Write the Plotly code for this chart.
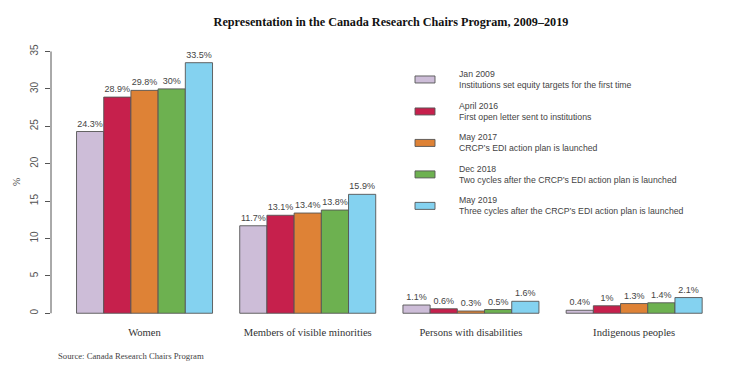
import plotly.graph_objects as go

categories = ["Women", "Members of visible minorities", "Persons with disabilities", "Indigenous peoples"]
series_dates = ["Jan 2009", "April 2016", "May 2017", "Dec 2018", "May 2019"]
series_desc = [
    "Institutions set equity targets for the first time",
    "First open letter sent to institutions",
    "CRCP\u2019s EDI action plan is launched",
    "Two cycles after the CRCP\u2019s EDI action plan is launched",
    "Three cycles after the CRCP\u2019s EDI action plan is launched",
]
jan_2009 = [24.3, 11.7, 1.1, 0.4]
apr_2016 = [28.9, 13.1, 0.6, 1.0]
may_2017 = [29.8, 13.4, 0.3, 1.3]
dec_2018 = [30.0, 13.8, 0.5, 1.4]
may_2019 = [33.5, 15.9, 1.6, 2.1]
series_values = [jan_2009, apr_2016, may_2017, dec_2018, may_2019]
colors = ["#CDBDD8", "#C6204C", "#DE8236", "#6DB150", "#84D2F0"]
y_ticks = [0, 5, 10, 15, 20, 25, 30, 35]

# page body has an 8px margin: work in page pixels, then shift
OFF = 8
W, H = 754 - 2 * OFF, 377 - 2 * OFF
ML, MR = 51 - OFF, 34 - OFF
MT = 43.5 - OFF
MB = H - (316.7 - OFF)
PW, PH = W - ML - MR, H - MT - MB
X_RANGE = [-0.573, 3.526]
Y_RANGE = [-0.5, 36.0]

def px_x(p):
    return (p - OFF - ML) / PW

def px_y(p):
    return 1 - (p - OFF - MT) / PH

SANS = "Liberation Sans, Arial, sans-serif"
SERIF = "Liberation Serif, Times New Roman, serif"

fig = go.Figure()
x_pos = list(range(len(categories)))
for name, vals, col in zip(series_dates, series_values, colors):
    fig.add_trace(go.Bar(
        x=x_pos, y=vals, name=name,
        marker=dict(color=col, line=dict(color="#555555", width=0.9)),
        text=[f"{v:g}%" for v in vals],
        textposition="outside",
        textfont=dict(family=SANS, size=9, color="#444444"),
        cliponaxis=False,
        showlegend=False,
    ))

shapes = []
annotations = []
shapes.append(dict(type="line", xref="paper", yref="y", x0=0, x1=0, y0=0, y1=35,
                   line=dict(color="#555555", width=1)))

legend_centers = [79, 111, 142.5, 174, 205.5]
for i, (d, desc, col) in enumerate(zip(series_dates, series_desc, colors)):
    cy = legend_centers[i]
    shapes.append(dict(type="rect", xref="paper", yref="paper",
                       x0=px_x(415), x1=px_x(435), y0=px_y(cy + 3.5), y1=px_y(cy - 3.5),
                       fillcolor=col, line=dict(color="#555555", width=0.9)))
    annotations.append(dict(xref="paper", yref="paper", x=px_x(457), y=px_y(cy),
                            xanchor="left", yanchor="middle", align="left", showarrow=False,
                            text=f"{d}<br>{desc}",
                            font=dict(family=SANS, size=8.7, color="#444444")))

annotations.append(dict(xref="paper", yref="paper", x=px_x(9), y=px_y(182),
                        xanchor="left", yanchor="middle", showarrow=False, textangle=-90,
                        text="%", font=dict(family=SERIF, size=10, color="#444444")))
annotations.append(dict(xref="paper", yref="paper", x=px_x(56), y=px_y(356),
                        xanchor="left", yanchor="middle", showarrow=False,
                        text="Source: Canada Research Chairs Program",
                        font=dict(family=SERIF, size=8.7, color="#444444")))

fig.update_layout(
    width=W, height=H,
    margin=dict(l=ML, r=MR, t=MT, b=MB, autoexpand=False),
    paper_bgcolor="white", plot_bgcolor="white",
    barmode="group", bargap=1/6, bargroupgap=0,
    title=dict(text="<b>Representation in the Canada Research Chairs Program, 2009\u20132019</b>",
               x=(391 - OFF) / W, xref="container", xanchor="center",
               y=1 - (22 - OFF) / H, yref="container", yanchor="middle",
               font=dict(family=SERIF, size=12.2, color="#111111")),
    xaxis=dict(range=X_RANGE, tickvals=x_pos, ticktext=categories, showgrid=False,
               zeroline=False, showline=False, ticks="",
               tickfont=dict(family=SERIF, size=10.6, color="#333333"),
               ticklabelstandoff=7),
    yaxis=dict(range=Y_RANGE, tickvals=y_ticks, showgrid=False, zeroline=False,
               showline=False, ticks="outside", ticklen=5, tickcolor="#555555",
               tickangle=-90, tickfont=dict(family=SANS, size=10, color="#555555"),
               ticklabelstandoff=3),
    shapes=shapes, annotations=annotations,
)

fig.write_html("out.html")
